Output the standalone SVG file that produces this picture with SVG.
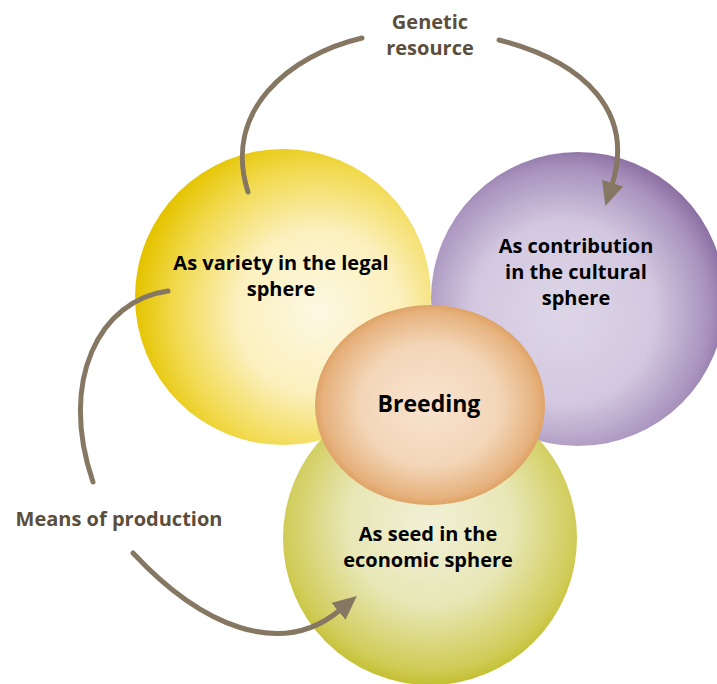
<svg xmlns="http://www.w3.org/2000/svg" width="717" height="684" viewBox="0 0 717 684">
<defs>
<radialGradient id="gY" cx="0.62" cy="0.55" r="0.62">
<stop offset="0" stop-color="#fdf8e2"/><stop offset="0.45" stop-color="#fbf0bd"/><stop offset="0.78" stop-color="#f2da50"/><stop offset="1" stop-color="#e4c400"/>
</radialGradient>
<radialGradient id="gP" cx="0.45" cy="0.55" r="0.62">
<stop offset="0" stop-color="#ddd6e7"/><stop offset="0.5" stop-color="#d3c8e0"/><stop offset="0.8" stop-color="#a892bd"/><stop offset="1" stop-color="#77578f"/>
</radialGradient>
<radialGradient id="gO" cx="0.5" cy="0.45" r="0.62">
<stop offset="0" stop-color="#f1f0d6"/><stop offset="0.45" stop-color="#e8e7b6"/><stop offset="0.8" stop-color="#d0cc58"/><stop offset="1" stop-color="#b5b000"/>
</radialGradient>
<radialGradient id="gB" cx="0.5" cy="0.5" r="0.55">
<stop offset="0" stop-color="#f8e3cf"/><stop offset="0.55" stop-color="#f3d6b8"/><stop offset="0.85" stop-color="#e6b17c"/><stop offset="1" stop-color="#d38c44"/>
</radialGradient>
<marker id="ah" markerUnits="userSpaceOnUse" markerWidth="26" markerHeight="24" refX="2" refY="11" orient="auto">
<path d="M0,0 L24,11 L0,22 z" fill="#857761"/>
</marker>
<style>
.lbl{font-family:"Open Sans","Liberation Sans",sans-serif;font-weight:bold;font-size:20px;text-anchor:middle;fill:#000}
.side{font-family:"Open Sans","Liberation Sans",sans-serif;font-weight:bold;font-size:20px;text-anchor:middle;fill:#5b4e3c}
.arc{fill:none;stroke:#857761;stroke-width:5;stroke-linecap:round}
</style>
</defs>
<g id="legal"><circle cx="283" cy="297" r="148" fill="url(#gY)"/></g>
<g id="cultural"><circle cx="578" cy="299" r="147" fill="url(#gP)"/></g>
<g id="economic"><circle cx="430" cy="538" r="147" fill="url(#gO)"/></g>
<g id="breeding"><ellipse cx="430" cy="405" rx="115" ry="100" fill="url(#gB)"/></g>
<g id="labels">
<text class="lbl" x="281" y="270">As variety in the legal</text>
<text class="lbl" x="281" y="296">sphere</text>
<text class="lbl" x="576" y="253">As contribution</text>
<text class="lbl" x="576" y="279">in the cultural</text>
<text class="lbl" x="576" y="305">sphere</text>
<text class="lbl" x="429" y="412" style="font-size:23px">Breeding</text>
<text class="lbl" x="428" y="541">As seed in the</text>
<text class="lbl" x="428" y="567">economic sphere</text>
<text class="side" x="430" y="29">Genetic</text>
<text class="side" x="430" y="55">resource</text>
<text class="side" x="119" y="526">Means of production</text>
</g>
<g id="connectors">
<path class="arc" d="M362,38 C290,55 222,110 248,192"/>
<path class="arc" d="M499,40 C585,62 635,112 612,185" marker-end="url(#ah)"/>
<path class="arc" d="M168,291 C100,300 58,380 93,482"/>
<path class="arc" d="M133,553 C200,625 280,660 340,610" marker-end="url(#ah)"/>
</g>
</svg>
